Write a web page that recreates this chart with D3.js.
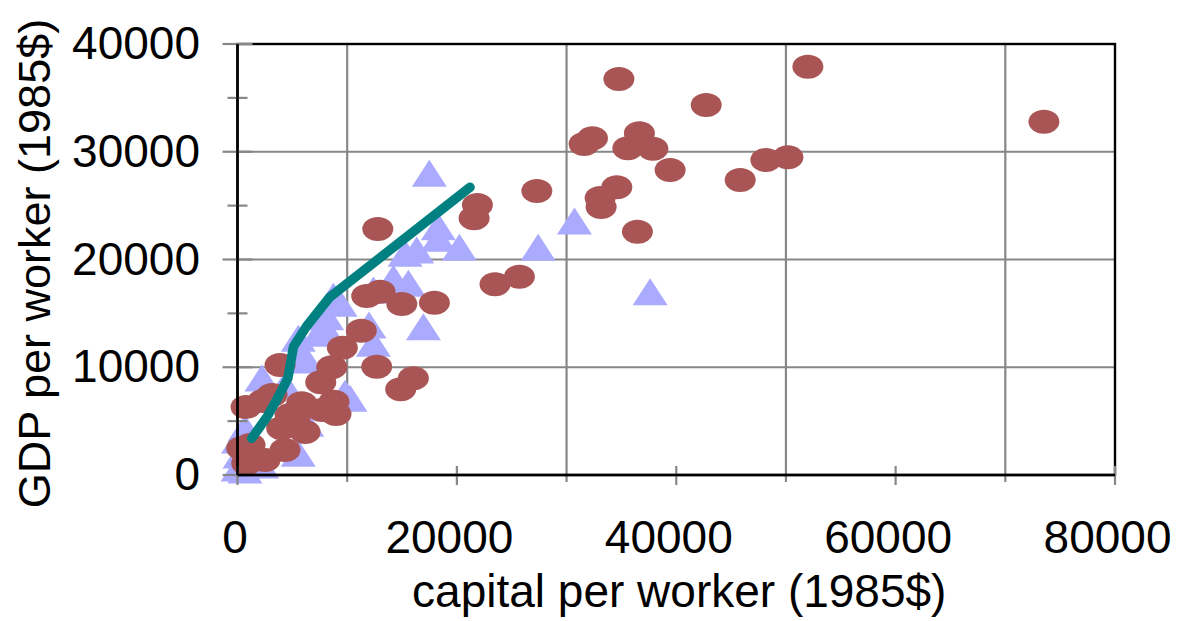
<!DOCTYPE html>
<html>
<head>
<meta charset="utf-8">
<script src="https://cdn.jsdelivr.net/npm/d3@7"></script>
<style>
	body { margin: 0; background: #fff; }
	text { font-family: "Liberation Sans", Arial, sans-serif; fill: #000; }
</style>
</head>
<body>
<script>

// brown ellipses (one country each)
var circleCapital = [52000, 34770, 42730, 31600, 32360, 36640, 35590, 37870, 39440, 34580,
	33060, 33150, 36460, 45830, 48170, 50180, 73520, 12790, 21870, 21570,
	27290, 23480, 25700, 11780, 13000, 14980, 17950, 11290, 9560, 12690,
	8590, 7590, 16030, 14880, 3880, 8800, 8980, 780, 2330, 5850,
	7710, 5240, 4030, 4330, 380, 840, 2510, 6160, 4790, 1140, 3150];
var circleGdp = [37890, 36750, 34340, 30710, 31250, 31710, 30320, 30280, 28300, 26700,
	25710, 24870, 22580, 27380, 29230, 29480, 32790, 22830, 25060, 23820,
	26360, 17700, 18400, 16610, 17010, 15870, 15990, 13390, 11810, 10050,
	9990, 8600, 8970, 7950, 10210, 6800, 5660, 6310, 6870, 6650,
	6030, 5100, 4330, 2320, 2480, 1090, 1390, 3990, 5570, 2780, 7420];

// light blue triangles
var triangleCapital = [17490, 30720, 27410, 20230, 18310, 18310, 15280, 16340, 14210, 15580,
	12390, 8740, 37620, 11990, 12390, 16950, 9350, 8130, 8130, 5540,
	5700, 6160, 7370, 9800, 10260, 5540, 6310, 50, 230, 100,
	680, 2230, 4330, 680, 2210];
var triangleGdp = [28000, 23570, 21130, 21130, 23040, 21970, 20570, 20880, 18250, 17790,
	17170, 16590, 17010, 13920, 12220, 13760, 15930, 14690, 13460, 12690,
	11600, 10670, 13150, 7580, 7120, 2010, 4800, 650, 1860, 3250,
	4360, 9000, 8350, 460, 930];

// teal line
var lineCapital = [1300, 2700, 3900, 4600, 5100, 6300, 8400, 21200];
var lineGdp = [3400, 5400, 7600, 9000, 11900, 13800, 16500, 26700];

var xTicks = [0, 20000, 40000, 60000, 80000];
var xMinor = [10000, 30000, 50000, 70000];
var yTicks = [0, 10000, 20000, 30000, 40000];
var yMinor = [5000, 15000, 25000, 35000];

var margin = {top: 44, right: 73, bottom: 146, left: 237.5},
	width = 1188 - margin.left - margin.right,
	height = 621 - margin.top - margin.bottom;

var x = d3.scaleLinear().domain([0, 80000]).range([0, width]);
var y = d3.scaleLinear().domain([0, 40000]).range([height, 0]);

var root = d3.select("body").append("svg")
	.attr("width", 1188)
	.attr("height", 621);

var svg = root.append("g")
	.attr("transform", "translate(" + margin.left + "," + margin.top + ")");

var gridColor = "#878787";

// gridlines
svg.selectAll(".vgrid")
	.data(xMinor)
	.enter().append("line")
	.attr("x1", d => x(d)).attr("x2", d => x(d))
	.attr("y1", 0).attr("y2", height + 7)
	.style("stroke", gridColor).style("stroke-width", 2.2);

svg.selectAll(".hgrid")
	.data(yTicks.slice(1, 4))
	.enter().append("line")
	.attr("x1", 0).attr("x2", width)
	.attr("y1", d => y(d)).attr("y2", d => y(d))
	.style("stroke", gridColor).style("stroke-width", 2.2);

// markers
var tri = "M0,-13.5L17.5,13.5L-17.5,13.5Z";

svg.selectAll(".tri")
	.data(triangleCapital.map((c, i) => [c, triangleGdp[i]]))
	.enter().append("path")
	.attr("d", tri)
	.attr("transform", d => "translate(" + x(d[0]) + "," + y(d[1]) + ")")
	.style("fill", "#aaaaff");

svg.selectAll(".dot")
	.data(circleCapital.map((c, i) => [c, circleGdp[i]]))
	.enter().append("ellipse")
	.attr("cx", d => x(d[0]))
	.attr("cy", d => y(d[1]))
	.attr("rx", 15.5)
	.attr("ry", 12)
	.style("fill", "#aa5555");

var valueline = d3.line()
	.x(d => x(d[0]))
	.y(d => y(d[1]));

svg.append("path")
	.datum(lineCapital.map((c, i) => [c, lineGdp[i]]))
	.attr("d", valueline)
	.style("fill", "none")
	.style("stroke", "#008080")
	.style("stroke-width", 9.5)
	.style("stroke-linecap", "round")
	.style("stroke-linejoin", "round");

// frame
svg.append("rect")
	.attr("width", width).attr("height", height)
	.style("fill", "none").style("stroke", "#000").style("stroke-width", 2.4);

// tick marks crossing the axes
svg.selectAll(".ytick")
	.data(yTicks)
	.enter().append("line")
	.attr("x1", -15).attr("x2", 15)
	.attr("y1", d => y(d)).attr("y2", d => y(d))
	.style("stroke", gridColor).style("stroke-width", 2.2);

svg.selectAll(".ytickm")
	.data(yMinor)
	.enter().append("line")
	.attr("x1", -10).attr("x2", 10)
	.attr("y1", d => y(d)).attr("y2", d => y(d))
	.style("stroke", gridColor).style("stroke-width", 2.2);

svg.selectAll(".xtick")
	.data(xTicks)
	.enter().append("line")
	.attr("x1", d => x(d)).attr("x2", d => x(d))
	.attr("y1", height - 9).attr("y2", height + 10)
	.style("stroke", gridColor).style("stroke-width", 2.2);

// axis lines on top
svg.append("line")
	.attr("x1", 0).attr("x2", 0).attr("y1", 0).attr("y2", height)
	.style("stroke", "#000").style("stroke-width", 2.4);
svg.append("line")
	.attr("x1", 0).attr("x2", width).attr("y1", height).attr("y2", height)
	.style("stroke", "#000").style("stroke-width", 2.4);

// tick labels
var yAxis = svg.append("g")
	.call(d3.axisLeft(y).tickValues(yTicks).tickSize(0).tickPadding(37.5).tickFormat(d3.format("d")));
var xAxis = svg.append("g")
	.attr("transform", "translate(0," + height + ")")
	.call(d3.axisBottom(x).tickValues(xTicks).tickSize(0).tickPadding(45).tickFormat(d3.format("d")));

[xAxis, yAxis].forEach(function(g) {
	g.select(".domain").remove();
	g.selectAll("text")
		.style("font-size", "46px")
		.style("font-family", "'Liberation Sans', Arial, sans-serif")
		.attr("fill", "#000");
});
xAxis.selectAll("text").attr("dx", d => d === 0 ? -3 : -8);

// axis titles
root.append("text")
	.attr("x", margin.left + width / 2 + 3)
	.attr("y", 607)
	.attr("text-anchor", "middle")
	.style("font-size", "46px")
	.text("capital per worker (1985$)");

root.append("text")
	.attr("transform", "translate(50," + (margin.top + height / 2 + 4) + ") rotate(-90)")
	.attr("text-anchor", "middle")
	.style("font-size", "45px")
	.text("GDP per worker (1985$)");

</script>
</body>
</html>
